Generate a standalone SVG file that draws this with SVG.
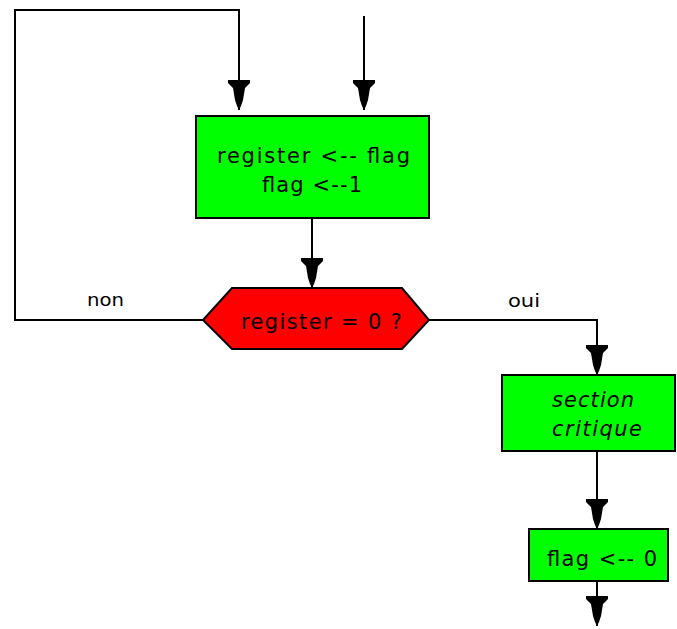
<svg xmlns="http://www.w3.org/2000/svg" width="677" height="629" viewBox="0 0 677 629">
<style>
.box{fill:#00ff00;stroke:#000;stroke-width:2}
.dec{fill:#ff0000;stroke:#000;stroke-width:2}
.ln{fill:none;stroke:#000;stroke-width:2}
.t{font-family:"DejaVu Sans","Liberation Sans",sans-serif;font-size:21px;fill:#000}
.s{font-size:18px}
.it{font-style:italic}
</style>
<defs>
<marker id="ah" markerUnits="userSpaceOnUse" viewBox="-31 -12 32 24" markerWidth="32" markerHeight="24" refX="0" refY="0" orient="auto">
<path d="M0,0 L-4,-2 L-10,-4 L-22,-6 L-27,-11 L-30,-11 L-30,11 L-27,11 L-22,6 L-10,4 L-4,2 Z" fill="#000"/>
</marker>
</defs>
<rect width="677" height="629" fill="#fff"/>
<g id="connectors">
<polyline class="ln" points="203,320 15,320 15,10 239,10 239,110" marker-end="url(#ah)"/>
<line class="ln" x1="364" y1="16" x2="364" y2="110" marker-end="url(#ah)"/>
<line class="ln" x1="312" y1="218" x2="312" y2="288" marker-end="url(#ah)"/>
<polyline class="ln" points="429,320 597,320 597,375" marker-end="url(#ah)"/>
<line class="ln" x1="597" y1="451" x2="597" y2="529" marker-end="url(#ah)"/>
<line class="ln" x1="597" y1="581" x2="597" y2="626" marker-end="url(#ah)"/>
<text class="t s" x="87" y="306" textLength="37" lengthAdjust="spacingAndGlyphs">non</text>
<text class="t s" x="508" y="307" textLength="32" lengthAdjust="spacingAndGlyphs">oui</text>
</g>
<g id="assign">
<rect class="box" x="196" y="116" width="233" height="102"/>
<text class="t" x="217" y="163" textLength="193" lengthAdjust="spacing">register &lt;-- flag</text>
<text class="t" x="262" y="192" textLength="100" lengthAdjust="spacing">flag &lt;--1</text>
</g>
<g id="test">
<polygon class="dec" points="203,320 232,288 402,288 429,320 402,349 232,349"/>
<text class="t" x="241" y="329" textLength="161" lengthAdjust="spacing">register = 0 ?</text>
</g>
<g id="section">
<rect class="box" x="502" y="375" width="173" height="76"/>
<text class="t it" x="552" y="407" textLength="82" lengthAdjust="spacing">section</text>
<text class="t it" x="552" y="436" textLength="90" lengthAdjust="spacing">critique</text>
</g>
<g id="reset">
<rect class="box" x="529" y="529" width="139" height="52"/>
<text class="t" x="547" y="566" textLength="110" lengthAdjust="spacing">flag &lt;-- 0</text>
</g>
</svg>
